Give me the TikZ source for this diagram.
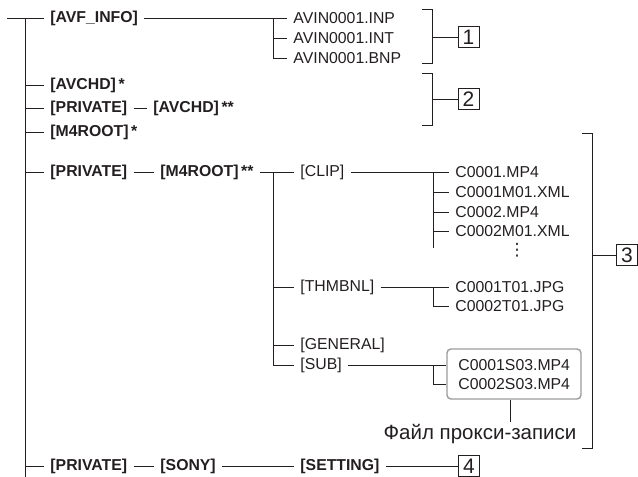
\documentclass[tikz,border=0pt]{standalone}
\usepackage{fontspec}
\setmainfont{Liberation Sans}
\newfontfamily\symfont{DejaVu Sans}
\usetikzlibrary{positioning}
\definecolor{ink}{RGB}{35,31,32}
\definecolor{boxgray}{RGB}{155,155,155}

\begin{document}
\begin{tikzpicture}[x=1pt, y=-1pt, line width=0.9pt, color=ink,
  dirnode/.style={anchor=west, inner xsep=6pt, inner ysep=2pt, font=\bfseries\fontsize{15.8}{16}\selectfont},
  filenode/.style={anchor=west, inner xsep=6pt, inner ysep=2pt, font=\fontsize{15.8}{16}\selectfont},
  numbox/.style={draw, minimum width=21pt, minimum height=21pt, inner sep=0pt, line width=0.8pt, font=\fontsize{21}{21}\selectfont},
  proxybox/.style={draw=boxgray, rounded corners=4pt, line width=1.4pt, minimum width=134pt, minimum height=50pt}]
\useasboundingbox (0,0) rectangle (638,477);
% Root folders
\coordinate (stub) at (7,18);
\coordinate (trunk) at (25,18);
\coordinate (trunkend) at (25,477);
\node[dirnode] (avf) at (44,18) {[AVF\_INFO]};
\node[dirnode] (avchdA) at (44,85) {[AVCHD]\,*};
\node[dirnode] (privA) at (44,108) {[PRIVATE]};
\node[dirnode] (avchdB) at (147,108) {[AVCHD]\,**};
\node[dirnode] (m4A) at (44,132) {[M4ROOT]\,*};
\node[dirnode] (privM) at (44,172) {[PRIVATE]};
\node[dirnode] (m4B) at (154,172) {[M4ROOT]\,**};
\node[dirnode] (privS) at (44,466) {[PRIVATE]};
\node[dirnode] (sony) at (154,466) {[SONY]};
\node[dirnode] (setting) at (294,466) {[SETTING]};
% AVF_INFO files
\coordinate (jAvf) at (273,18);
\node[filenode] (inp) at (287,18) {AVIN0001.INP};
\node[filenode] (int) at (287,38) {AVIN0001.INT};
\node[filenode] (bnp) at (287,58) {AVIN0001.BNP};
% M4ROOT subfolders
\coordinate (jM4) at (273,172);
\node[filenode] (clip) at (294,172) {[CLIP]};
\node[filenode] (thm) at (294,287) {[THMBNL]};
\node[filenode] (gen) at (294,345) {[GENERAL]};
\node[filenode] (sub) at (294,365) {[SUB]};
% CLIP files
\coordinate (jClip) at (433,172);
\coordinate (jClipEnd) at (433,248);
\node[filenode] (c1) at (449,172) {C0001.MP4};
\node[filenode] (c2) at (449,192) {C0001M01.XML};
\node[filenode] (c3) at (449,212) {C0002.MP4};
\node[filenode] (c4) at (449,231) {C0002M01.XML};
\node[font=\symfont\fontsize{17}{17}\selectfont, inner sep=0pt] (dots) at (517,250) {⋮};
% THMBNL files
\coordinate (jThm) at (433,287);
\node[filenode] (t1) at (449,287) {C0001T01.JPG};
\node[filenode] (t2) at (449,306) {C0002T01.JPG};
% SUB files in proxy box
\coordinate (jSub) at (433,365);
\node[proxybox] (proxy) at (514,374) {};
\node[filenode] (s1) at (452,365) {C0001S03.MP4};
\node[filenode] (s2) at (452,384) {C0002S03.MP4};
\node[anchor=base, inner sep=1pt, font=\fontsize{20.5}{20.5}\selectfont] (proxylbl) at (480,439) {Файл прокси-записи};
% Number boxes
\node[numbox] (n1) at (468.5,37) {1};
\node[numbox] (n2) at (468.5,99) {2};
\node[numbox] (n3) at (627,255) {3};
\node[numbox] (n4) at (469,466) {4};
\coordinate (br1) at (432,37);
\coordinate (br2) at (432,99);
\coordinate (br3) at (592,255);
% Tree lines
\draw (stub) -- (avf.west);
\draw (trunk) -- (trunkend);
\foreach \n in {avchdA,privA,m4A,privM,privS} \draw (trunk |- \n.west) -- (\n.west);
\draw (privA.east) -- (avchdB.west);
\draw (privM.east) -- (m4B.west);
\draw (privS.east) -- (sony.west);
\draw (sony.east) -- (setting.west);
\draw (avf.east) -- (inp.west);
\draw (jAvf |- int.west) -- (int.west);
\draw (jAvf) |- (bnp.west);
\draw (m4B.east) -- (clip.west);
\draw (jM4) |- (sub.west);
\foreach \n in {thm,gen} \draw (jM4 |- \n.west) -- (\n.west);
\draw (clip.east) -- (c1.west);
\draw (jClip) -- (jClipEnd);
\foreach \n in {c2,c3,c4} \draw (jClip |- \n.west) -- (\n.west);
\draw (thm.east) -- (t1.west);
\draw (jThm) |- (t2.west);
\draw (sub.east) -- (proxy.west |- s1.west);
\draw (jSub) |- (proxy.west |- s2.west);
\draw ([xshift=-4pt]proxy.south) -- ([xshift=-4pt]proxy.south |- proxylbl.north);
% Brackets
\draw (422,9) -| (432,63) -- (422,63);
\draw (422,73) -| (432,125) -- (422,125);
\draw (582,133) -| (592,448) -- (582,448);
\draw (br1) -- (n1);
\draw (br2) -- (n2);
\draw (br3) -- (n3);
\draw (setting.east) -- (n4);
\end{tikzpicture}
\end{document}
